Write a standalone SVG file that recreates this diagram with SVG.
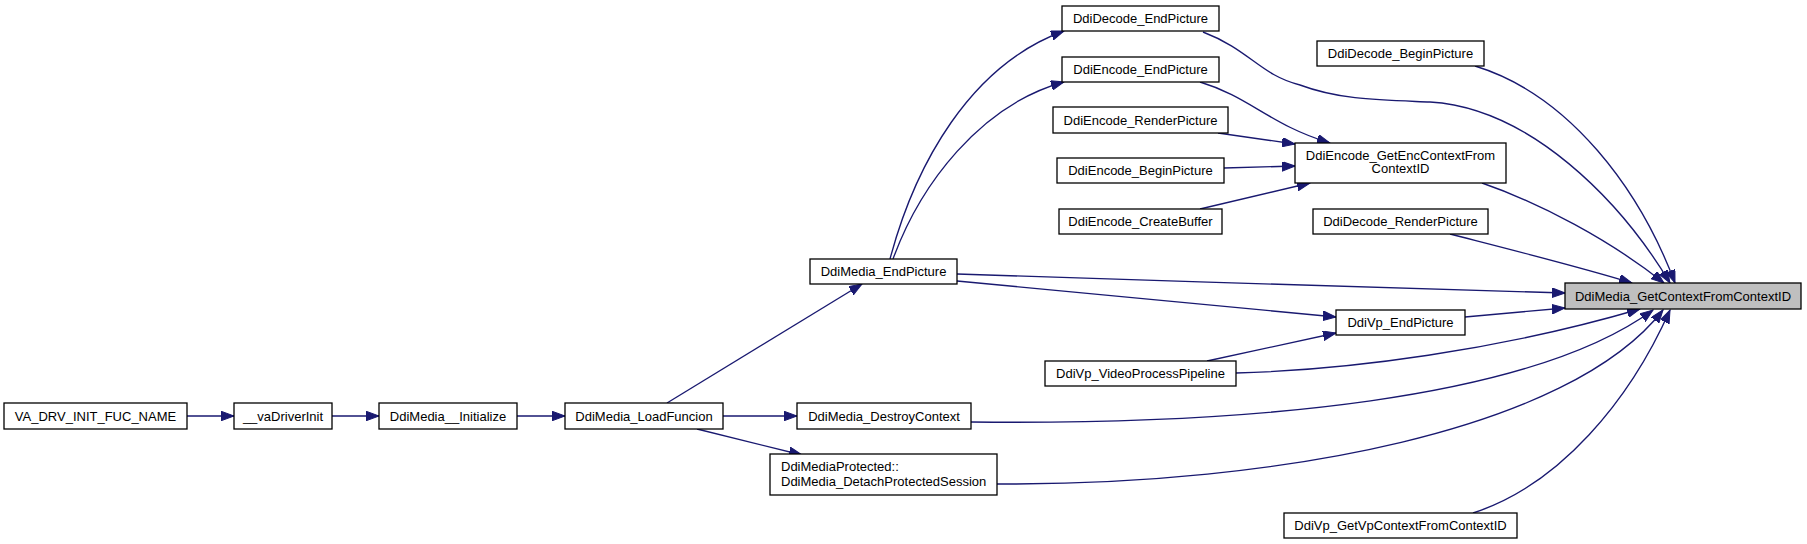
<svg xmlns="http://www.w3.org/2000/svg" width="1807" height="544" viewBox="0 0 1807 544">
<style>
.n rect{fill:#ffffff;stroke:#000000;stroke-width:1.3}
.n.main rect{fill:#bfbfbf}
.n text{font-family:"Liberation Sans",Arial,sans-serif;font-size:13px;fill:#000000}
.c{text-anchor:middle}
#edges path{fill:none;stroke:#191970;stroke-width:1.35;marker-end:url(#ah)}
</style>
<defs>
<marker id="ah" markerUnits="userSpaceOnUse" markerWidth="14" markerHeight="10" refX="13" refY="4.8" orient="auto">
<path d="M0,0 L13,4.8 L0,9.6 z" fill="#191970" stroke="#191970" stroke-width="1"/>
</marker>
</defs>
<rect x="0" y="0" width="1807" height="544" fill="#ffffff"/>
<g id="edges">
<path d="M187,416 L234,416"/>
<path d="M332,416 L379,416"/>
<path d="M517,416 L565,416"/>
<path d="M667,403 L862,284"/>
<path d="M723,416 L797,416"/>
<path d="M697,429 L802,455"/>
<path d="M890,259 C915,165 970,65 1064,31"/>
<path d="M893,259 C920,185 980,105 1064,82"/>
<path d="M957,274 C1150,280 1400,289 1565,293"/>
<path d="M957,281 L1336,317"/>
<path d="M1207,361 L1336,333"/>
<path d="M1465,317 L1565,308"/>
<path d="M1200,82 C1250,97 1270,125 1330,143"/>
<path d="M1218,133 L1295,144"/>
<path d="M1224,168 L1295,166"/>
<path d="M1200,209 L1310,183"/>
<path d="M1203,32 C1250,50 1260,75 1300,85 C1340,100 1380,100 1430,102 C1530,108 1620,200 1670,283"/>
<path d="M1475,66 C1570,95 1640,190 1675,283"/>
<path d="M1482,183 C1540,203 1610,240 1664,283"/>
<path d="M1450,234 C1520,252 1580,267 1632,283"/>
<path d="M1236,373 C1350,370 1500,350 1640,309"/>
<path d="M971,422 C1250,425 1530,400 1653,310"/>
<path d="M997,484 C1280,485 1570,430 1663,310"/>
<path d="M1473,513 C1560,485 1630,400 1670,310"/>
</g>
<g id="node_va_drv" class="n"><rect x="4" y="403" width="183" height="26"/><text class="c" x="95.5" y="420.5">VA_DRV_INIT_FUC_NAME</text></g>
<g id="node_vadriverinit" class="n"><rect x="234" y="403" width="98" height="26"/><text class="c" x="283" y="420.5">__vaDriverInit</text></g>
<g id="node_initialize" class="n"><rect x="379" y="403" width="138" height="26"/><text class="c" x="448" y="420.5">DdiMedia__Initialize</text></g>
<g id="node_loadfuncion" class="n"><rect x="565" y="403" width="158" height="26"/><text class="c" x="644" y="420.5">DdiMedia_LoadFuncion</text></g>
<g id="node_media_endpicture" class="n"><rect x="810" y="259" width="147" height="25"/><text class="c" x="883.5" y="276">DdiMedia_EndPicture</text></g>
<g id="node_destroycontext" class="n"><rect x="797" y="403" width="174" height="26"/><text class="c" x="884" y="420.5">DdiMedia_DestroyContext</text></g>
<g id="node_protected" class="n"><rect x="770" y="454" width="227" height="41"/><text x="781" y="470.5">DdiMediaProtected::</text><text x="781" y="485.5">DdiMedia_DetachProtectedSession</text></g>
<g id="node_decode_endpicture" class="n"><rect x="1062" y="6" width="157" height="25"/><text class="c" x="1140.5" y="23">DdiDecode_EndPicture</text></g>
<g id="node_encode_endpicture" class="n"><rect x="1062" y="57" width="157" height="25"/><text class="c" x="1140.5" y="74">DdiEncode_EndPicture</text></g>
<g id="node_encode_renderpicture" class="n"><rect x="1053" y="107" width="175" height="26"/><text class="c" x="1140.5" y="124.5">DdiEncode_RenderPicture</text></g>
<g id="node_encode_beginpicture" class="n"><rect x="1057" y="158" width="167" height="25"/><text class="c" x="1140.5" y="175">DdiEncode_BeginPicture</text></g>
<g id="node_encode_createbuffer" class="n"><rect x="1059" y="209" width="163" height="25"/><text class="c" x="1140.5" y="226">DdiEncode_CreateBuffer</text></g>
<g id="node_getenccontext" class="n"><rect x="1295" y="143" width="211" height="40"/><text class="c" x="1400.5" y="159.5">DdiEncode_GetEncContextFrom</text><text class="c" x="1400.5" y="173">ContextID</text></g>
<g id="node_decode_beginpicture" class="n"><rect x="1317" y="41" width="167" height="25"/><text class="c" x="1400.5" y="58">DdiDecode_BeginPicture</text></g>
<g id="node_decode_renderpicture" class="n"><rect x="1313" y="209" width="175" height="25"/><text class="c" x="1400.5" y="226">DdiDecode_RenderPicture</text></g>
<g id="node_vp_endpicture" class="n"><rect x="1336" y="310" width="129" height="25"/><text class="c" x="1400.5" y="327">DdiVp_EndPicture</text></g>
<g id="node_vp_pipeline" class="n"><rect x="1045" y="361" width="191" height="25"/><text class="c" x="1140.5" y="378">DdiVp_VideoProcessPipeline</text></g>
<g id="node_vp_getcontext" class="n"><rect x="1284" y="513" width="233" height="25"/><text class="c" x="1400.5" y="530">DdiVp_GetVpContextFromContextID</text></g>
<g id="node_main" class="n main"><rect x="1565" y="283" width="236" height="26"/><text class="c" x="1683" y="300.5">DdiMedia_GetContextFromContextID</text></g>
</svg>
